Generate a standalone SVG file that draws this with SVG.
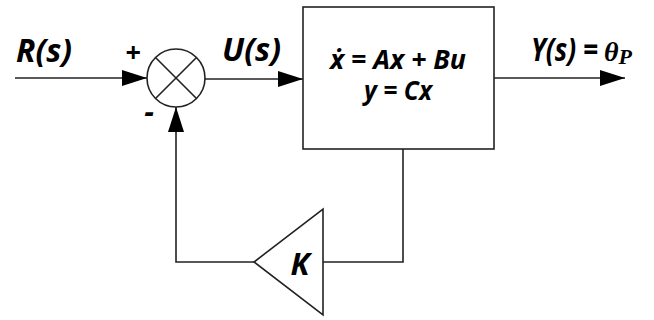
<svg xmlns="http://www.w3.org/2000/svg" width="654" height="320" viewBox="0 0 654 320">
<style>
.ln{fill:none;stroke:#222;stroke-width:1.6}
.sh{fill:#fff;stroke:#222;stroke-width:1.6}
.t{font-family:"Open Sans","Liberation Sans",sans-serif;font-weight:bold;font-style:italic;fill:#000}
.s{font-family:"Liberation Serif",serif;font-style:italic;font-weight:bold;fill:#000}
</style>
<defs>
<marker id="ar" markerWidth="26" markerHeight="16" refX="25" refY="8" orient="auto" markerUnits="userSpaceOnUse">
<path d="M0,0 L25,8 L0,16 Z" fill="#000"/>
</marker>
</defs>
<g id="connectors">
<path class="ln" d="M15,78 H147" marker-end="url(#ar)"/>
<path class="ln" d="M205,79 H303" marker-end="url(#ar)"/>
<path class="ln" d="M494,78 H625" marker-end="url(#ar)"/>
<path class="ln" d="M403,149 V262 H323"/>
<path class="ln" d="M254,262 H176 V107" marker-end="url(#ar)"/>
</g>
<g id="sum">
<circle class="sh" cx="176" cy="78" r="29"/>
<path class="ln" d="M155.5,57.5 L196.5,98.5 M196.5,57.5 L155.5,98.5"/>
<text class="t" x="133" y="62" font-size="27" font-style="normal" text-anchor="middle">+</text>
<text class="t" x="149" y="122" font-size="30" font-style="normal" text-anchor="middle">-</text>
</g>
<g id="plant">
<rect class="sh" x="303" y="7" width="191" height="142"/>
<text class="t" x="330" y="69" font-size="26" textLength="136" lengthAdjust="spacingAndGlyphs">ẋ = Ax + Bu</text>
<text class="t" x="364" y="100" font-size="26" textLength="68" lengthAdjust="spacingAndGlyphs">y = Cx</text>
</g>
<g id="gain">
<path class="sh" d="M323,209 V315 L254,262 Z"/>
<text class="t" x="300" y="275" font-size="31" text-anchor="middle">K</text>
</g>
<g id="labels">
<text class="t" x="16" y="62" font-size="32" textLength="56" lengthAdjust="spacingAndGlyphs">R(s)</text>
<text class="t" x="222" y="61" font-size="32" textLength="59" lengthAdjust="spacingAndGlyphs">U(s)</text>
<text class="t" x="531" y="61" font-size="32" textLength="67" lengthAdjust="spacingAndGlyphs">Y(s) =</text>
<text class="s" x="604" y="61" font-size="28">θ<tspan font-size="22" dy="3">P</tspan></text>
</g>
</svg>
